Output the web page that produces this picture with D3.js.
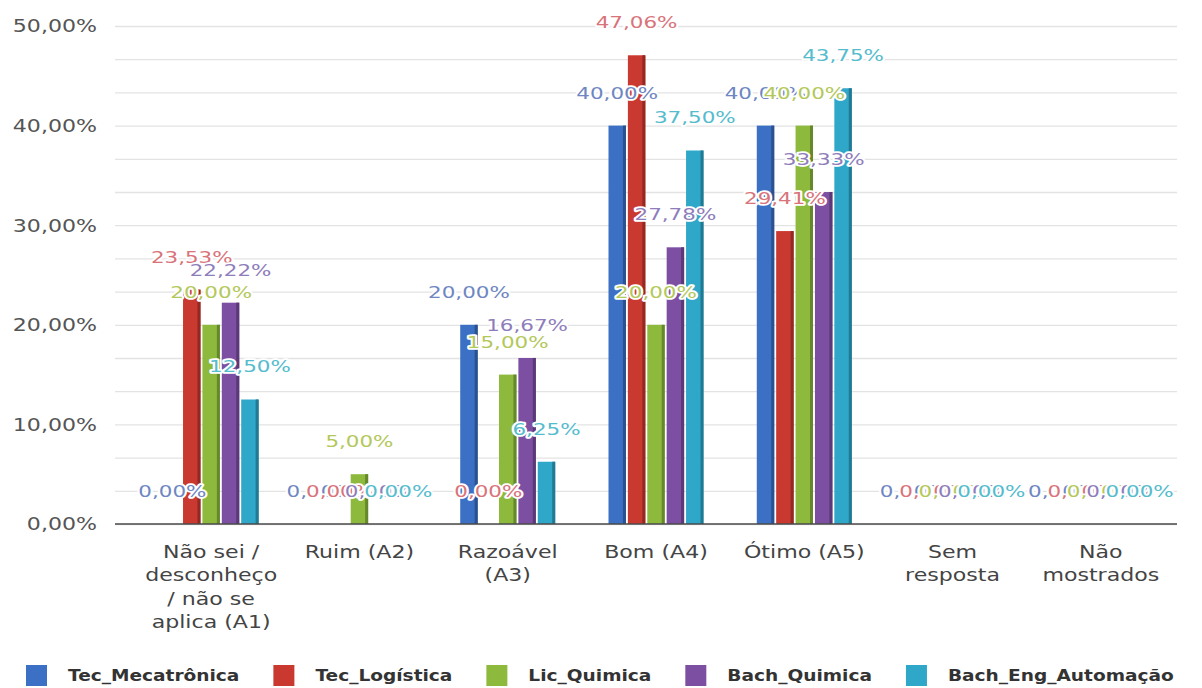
<!DOCTYPE html>
<html lang="pt">
<head>
<meta charset="utf-8">
<script src="https://cdn.jsdelivr.net/npm/d3@7"></script>
<style>
  html, body { margin: 0; padding: 0; background: #fff; }
  svg { display: block; font-family: "DejaVu Sans", sans-serif; }
</style>
</head>
<body>
<svg id="chart" width="1202" height="688"></svg>
<script>
// Response categories (x axis) and how each tick label is broken into lines
const categories = ["A1", "A2", "A3", "A4", "A5", "SR", "NM"];
const categoryLines = [
  ["Não sei /", "desconheço", "/ não se", "aplica (A1)"],
  ["Ruim (A2)"],
  ["Razoável", "(A3)"],
  ["Bom (A4)"],
  ["Ótimo (A5)"],
  ["Sem", "resposta"],
  ["Não", "mostrados"]
];

// Courses (series)
const seriesNames = ["Tec_Mecatrônica", "Tec_Logística", "Lic_Quimica", "Bach_Quimica", "Bach_Eng_Automação"];

// Percentage of answers per course, one value per category
const tecMecatronica = [0, 0, 20.00, 40.00, 40.00, 0, 0];
const tecLogistica   = [23.53, 0, 0, 47.06, 29.41, 0, 0];
const licQuimica     = [20.00, 5.00, 15.00, 20.00, 40.00, 0, 0];
const bachQuimica    = [22.22, 0, 16.67, 27.78, 33.33, 0, 0];
const bachEngAutom   = [12.50, 0, 6.25, 37.50, 43.75, 0, 0];

// Y axis ticks
const yTicks = [0, 10, 20, 30, 40, 50];

const seriesValues = [tecMecatronica, tecLogistica, licQuimica, bachQuimica, bachEngAutom];
const barColors   = ["#3b70c4", "#c9392f", "#8dba3d", "#7c4fa2", "#2fa7c9"];
const labelColors = ["#6e86c2", "#d9737a", "#b3c85a", "#8e7dbb", "#55bccd"];

const svg = d3.select("#chart");
const STRETCH = 1.3;          // horizontal stretch applied to every text
const fmt = v => d3.format(".2f")(v).replace(".", ",") + "%";

const plotLeft = 115, plotRight = 1177;
const y = d3.scaleLinear().domain([0, 50]).range([524, 26]);
const x0 = d3.scaleBand().domain(categories).range([137, 1175]).padding(0);
const x1 = d3.scaleBand().domain(seriesNames).range([-47.5, 47.5]).paddingInner(0.1);

// Light grid: one line every third of a major step
const gridTicks = d3.range(0, 50.0001, 10 / 3);
svg.append("g")
  .attr("transform", `translate(${plotLeft},0)`)
  .call(d3.axisLeft(y).tickValues(gridTicks).tickSize(-(plotRight - plotLeft)).tickFormat(""))
  .call(g => g.select(".domain").remove())
  .call(g => g.selectAll(".tick line").attr("stroke", "#e3e3e3").attr("stroke-width", 1.3));

// Y axis labels
svg.append("g")
  .attr("transform", `translate(${plotLeft},0)`)
  .call(d3.axisLeft(y).tickValues(yTicks).tickSize(0).tickFormat(v => fmt(v)))
  .call(g => g.select(".domain").remove())
  .call(g => g.selectAll(".tick text")
    .attr("x", -18 / STRETCH)
    .attr("dy", "0.35em")
    .attr("transform", `scale(${STRETCH},1)`)
    .attr("fill", "#555")
    .attr("font-size", 17)
    .attr("font-family", "DejaVu Sans, sans-serif"));

// Bars
const rows = [];
seriesNames.forEach((s, si) => {
  categories.forEach((c, ci) => rows.push({ s, si, c, ci, v: seriesValues[si][ci] }));
});

const barsG = svg.append("g");
const bar = barsG.selectAll("g.bar").data(rows.filter(d => d.v > 0)).join("g").attr("class", "bar");
bar.append("rect")
  .attr("x", d => x0(d.c) + x0.bandwidth() / 2 + x1(d.s))
  .attr("y", d => y(d.v))
  .attr("width", x1.bandwidth())
  .attr("height", d => y(0) - y(d.v))
  .attr("fill", d => barColors[d.si]);
// darker right edge of each bar
bar.append("rect")
  .attr("x", d => x0(d.c) + x0.bandwidth() / 2 + x1(d.s) + x1.bandwidth() - 3)
  .attr("y", d => y(d.v))
  .attr("width", 3)
  .attr("height", d => y(0) - y(d.v))
  .attr("fill", d => d3.color(barColors[d.si]).darker(0.9));

// Baseline + category labels
svg.append("g")
  .attr("transform", `translate(0,${y(0)})`)
  .call(d3.axisBottom(x0).tickSize(0).tickFormat(""))
  .call(g => g.select(".domain")
    .attr("d", `M${plotLeft},0H${plotRight}`)
    .attr("stroke", "#4a4a4a").attr("stroke-width", 1.6))
  .call(g => g.selectAll(".tick text").each(function(d) {
    const t = d3.select(this)
      .attr("y", 0).attr("dy", null)
      .attr("transform", `scale(${STRETCH},1)`)
      .attr("fill", "#444")
      .attr("font-size", 17)
      .attr("font-family", "DejaVu Sans, sans-serif");
    categoryLines[categories.indexOf(d)].forEach((line, i) => {
      t.append("tspan").attr("x", 0).attr("y", 34 + i * 23.5).text(line);
    });
  }));

// Value labels with white halo, later series painted on top
const labelsG = svg.append("g");
labelsG.selectAll("text").data(rows).join("text")
  .attr("transform", d => `translate(${x0(d.c) + x0.bandwidth() / 2 + x1(d.s) + x1.bandwidth() / 2},${y(d.v) - 33}) scale(${STRETCH},1)`)
  .attr("text-anchor", "middle")
  .attr("dy", "0.36em")
  .attr("font-size", 16.5)
  .attr("fill", d => labelColors[d.si])
  .attr("stroke", "#fff")
  .attr("stroke-width", 3.5)
  .attr("stroke-linejoin", "round")
  .attr("paint-order", "stroke")
  .text(d => fmt(d.v));

// Legend
const LEG_STRETCH = 1.16;
const legend = svg.append("g").attr("transform", "translate(0,675)");
let lx = 26;
seriesNames.forEach((s, i) => {
  legend.append("rect").attr("x", lx).attr("y", -10).attr("width", 21).attr("height", 21).attr("fill", barColors[i]);
  const t = legend.append("text")
    .attr("transform", `translate(${lx + 42},0) scale(${LEG_STRETCH},1)`)
    .attr("dy", "0.36em")
    .attr("font-size", 16)
    .attr("font-weight", "bold")
    .attr("fill", "#333")
    .text(s);
  lx += 42 + t.node().getComputedTextLength() * LEG_STRETCH + 34;
});
</script>
</body>
</html>
